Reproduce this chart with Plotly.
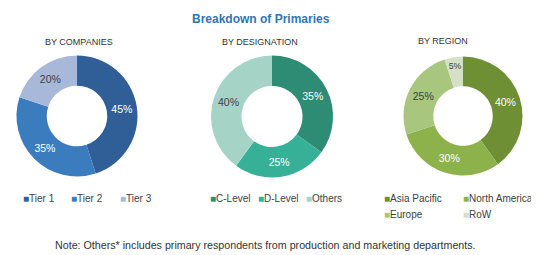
import plotly.graph_objects as go

# The page body has an 8px default margin, so the figure is sized to the
# visible area and reference pixel positions are shifted by that offset.
PAGE_W, PAGE_H, OFF = 539, 255, 8
W, H = PAGE_W - OFF, PAGE_H - OFF

# ---- data ----
company_labels = ["Tier 1", "Tier 2", "Tier 3"]
company_values = [45, 35, 20]
designation_labels = ["C-Level", "D-Level", "Others"]
designation_values = [35, 25, 40]
region_labels = ["Asia Pacific", "North America", "Europe", "RoW"]
region_values = [40, 30, 25, 5]

company_colors = ["#2f5f96", "#3b7cbf", "#a7b8d8"]
designation_colors = ["#2e8b74", "#36b096", "#a5d4c6"]
region_colors = ["#6f8f35", "#8eb24b", "#a9c67f", "#d5e0c6"]


def px(X):
    return (X - OFF) / W


def py(Y):
    return 1 - (Y - OFF) / H


def dom(cx, cy, r):
    return dict(x=[px(cx - r), px(cx + r)], y=[py(cy + r), py(cy - r)])


def donut(labels, values, colors, txtcolors, domain):
    return go.Pie(
        labels=labels, values=values, sort=False, direction="clockwise", rotation=0,
        hole=0.5, domain=domain, showlegend=False,
        marker=dict(colors=colors, line=dict(width=0)),
        texttemplate="%{value}%", textposition="inside",
        insidetextorientation="horizontal",
        textfont=dict(family="Liberation Sans, Arial, sans-serif", size=10.5, color=txtcolors),
        hoverinfo="label+value",
    )


fig = go.Figure()
fig.add_trace(donut(company_labels, company_values, company_colors,
                    ["white", "white", "#404040"], dom(77, 116, 60.5)))
fig.add_trace(donut(designation_labels, designation_values, designation_colors,
                    ["white", "white", "#404040"], dom(272, 116.5, 61)))
fig.add_trace(donut(region_labels, region_values, region_colors,
                    ["white", "white", "#404040", "#404040"], dom(463, 116, 59.5)))

sub_font = dict(family="Liberation Sans Narrow, Arial Narrow, Liberation Sans, Arial, sans-serif",
                size=9, color="#333333")
annotations = [
    dict(text="<b>Breakdown of Primaries</b>", x=px(261), y=py(19), xanchor="center",
         font=dict(family="Liberation Sans, Arial, sans-serif", size=12, color="#2f75b5")),
    dict(text="BY COMPANIES", x=px(79), y=py(42), xanchor="center", font=sub_font),
    dict(text="BY DESIGNATION", x=px(260), y=py(42), xanchor="center", font=sub_font),
    dict(text="BY REGION", x=px(443), y=py(41), xanchor="center", font=sub_font),
    dict(text="Note: Others* includes primary respondents from production and marketing departments.",
         x=px(265), y=py(245), xanchor="center",
         font=dict(family="Liberation Sans, Arial, sans-serif", size=10.7, color="#333333")),
]

# legend entries (coloured square + label), one row per chart, region in two columns
leg_font = dict(family="Liberation Sans, Arial, sans-serif", size=10, color="#404040")
legend_items = [
    (company_labels, company_colors, [(21, 198), (69, 198), (118, 198)]),
    (designation_labels, designation_colors, [(208, 198), (256, 198), (304, 198)]),
    (region_labels, region_colors, [(382, 198), (461, 198), (382, 214), (461, 214)]),
]
for labels, colors, spots in legend_items:
    for lab, col, (X, Y) in zip(labels, colors, spots):
        annotations.append(dict(
            text=f'<span style="color:{col}">■</span>{lab}',
            x=px(X), y=py(Y), xanchor="left", font=leg_font))

for a in annotations:
    a.update(xref="paper", yref="paper", yanchor="middle", showarrow=False)

fig.update_layout(
    width=W, height=H,
    margin=dict(l=0, r=0, t=0, b=0, autoexpand=False),
    paper_bgcolor="white", plot_bgcolor="white",
    annotations=annotations,
    showlegend=False,
)

fig.write_html("out.html")
